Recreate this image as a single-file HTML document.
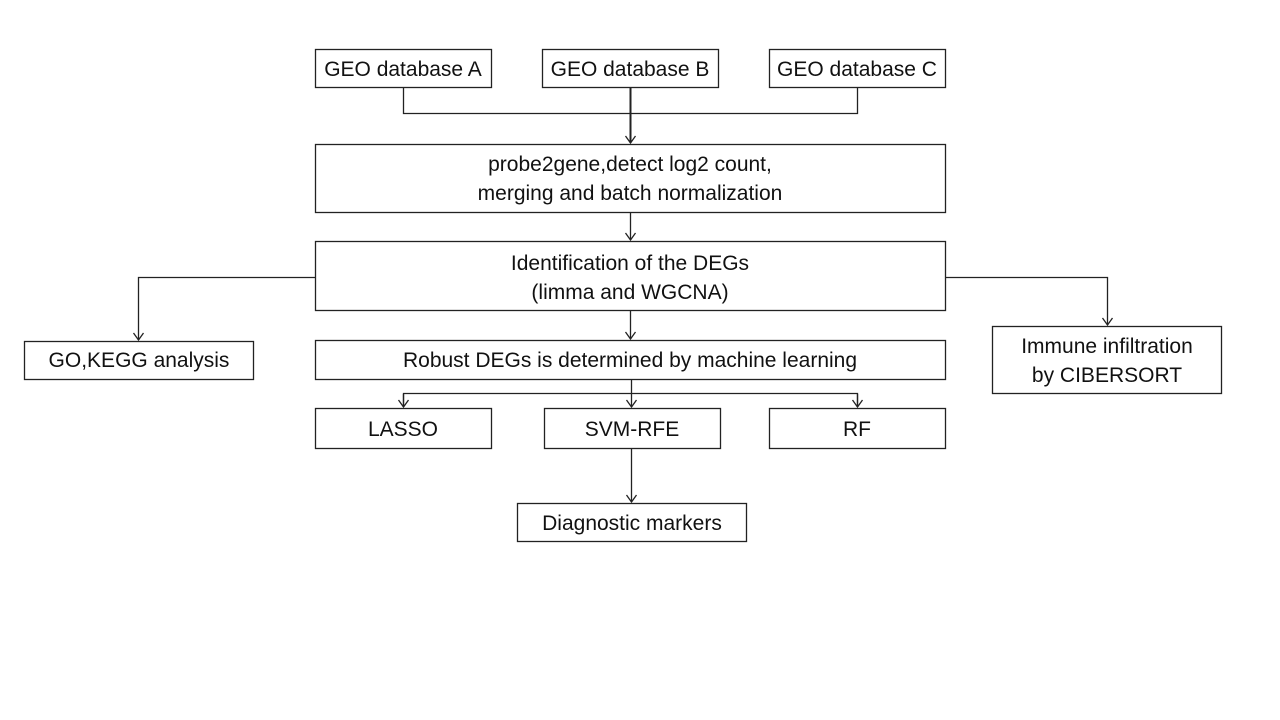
<!DOCTYPE html>
<html><head><style>body{margin:0;background:#fff}svg{display:block}text{font-family:"Liberation Sans",sans-serif;font-size:21px;fill:#111;text-anchor:middle}</style></head>
<body>
<svg width="1280" height="720" viewBox="0 0 1280 720">
<defs><marker id="a" markerWidth="12" markerHeight="12" refX="11" refY="6" orient="auto" markerUnits="userSpaceOnUse"><path d="M4,1 L11,6 L4,11" fill="none" stroke="#222" stroke-width="1.3"/></marker></defs>
<g fill="#fff" stroke="#222" stroke-width="1.3">
<rect x="315.5" y="49.5" width="176" height="38"/>
<rect x="542.5" y="49.5" width="176" height="38"/>
<rect x="769.5" y="49.5" width="176" height="38"/>
<rect x="315.5" y="144.5" width="630" height="68"/>
<rect x="315.5" y="241.5" width="630" height="69"/>
<rect x="24.5" y="341.5" width="229" height="38"/>
<rect x="992.5" y="326.5" width="229" height="67"/>
<rect x="315.5" y="340.5" width="630" height="39"/>
<rect x="315.5" y="408.5" width="176" height="40"/>
<rect x="544.5" y="408.5" width="176" height="40"/>
<rect x="769.5" y="408.5" width="176" height="40"/>
<rect x="517.5" y="503.5" width="229" height="38"/>
</g>
<g fill="none" stroke="#222" stroke-width="1.3">
<path d="M403.5 87V113.5H857.5V87"/>
<path d="M630.5 87V143" stroke-width="2" marker-end="url(#a)"/>
<path d="M630.5 212V240" marker-end="url(#a)"/>
<path d="M315 277.5H138.5V340" marker-end="url(#a)"/>
<path d="M945 277.5H1107.5V325" marker-end="url(#a)"/>
<path d="M630.5 310V339" marker-end="url(#a)"/>
<path d="M631.5 379V407" marker-end="url(#a)"/>
<path d="M403.5 407V393.5H857.5V407"/>
<path d="M403.5 394V407" marker-end="url(#a)"/>
<path d="M857.5 394V407" marker-end="url(#a)"/>
<path d="M631.5 448V502" marker-end="url(#a)"/>
</g>
<text x="403" y="76">GEO database A</text>
<text x="630" y="76">GEO database B</text>
<text x="857" y="76">GEO database C</text>
<text x="630" y="171">probe2gene,detect log2 count,</text>
<text x="630" y="200">merging and batch normalization</text>
<text x="630" y="270">Identification of the DEGs</text>
<text x="630" y="299">(limma and WGCNA)</text>
<text x="139" y="367">GO,KEGG analysis</text>
<text x="1107" y="353">Immune infiltration</text>
<text x="1107" y="382">by CIBERSORT</text>
<text x="630" y="367">Robust DEGs is determined by machine learning</text>
<text x="403" y="436">LASSO</text>
<text x="632" y="436">SVM-RFE</text>
<text x="857" y="436">RF</text>
<text x="632" y="530">Diagnostic markers</text>
</svg>
</body></html>
